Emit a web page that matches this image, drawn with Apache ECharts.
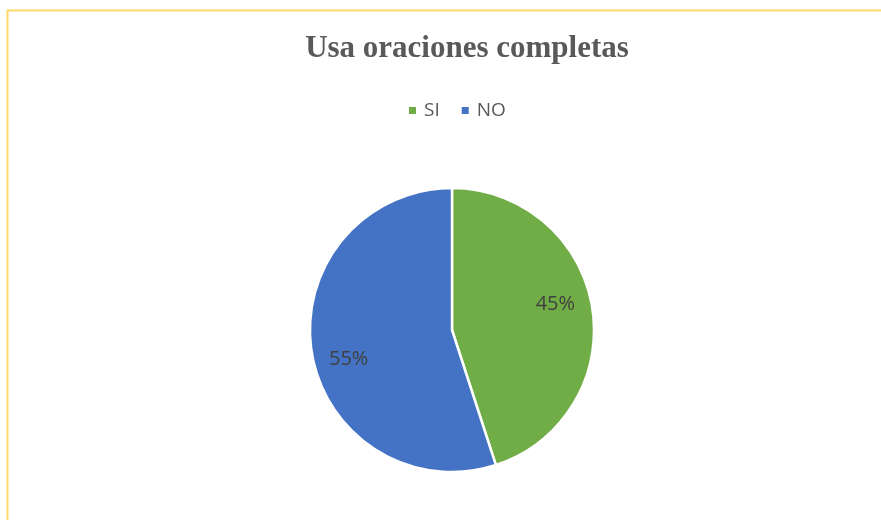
<!DOCTYPE html>
<html>
<head>
<meta charset="utf-8">
<script src="https://cdn.jsdelivr.net/npm/echarts@6/dist/echarts.min.js"></script>
<style>
html,body{margin:0;padding:0;background:#fff;}
#c{width:881px;height:520px;}
</style>
</head>
<body>
<div id="c"></div>
<script>
const titleText = 'Usa oraciones completas';
const categories = ['SI', 'NO'];
const values = [45, 55];
const colors = ['#70AD47', '#4472C4'];

const chart = echarts.init(document.getElementById('c'), null, {renderer: 'canvas'});
const data = categories.map((c, i) => ({name: c, value: values[i], itemStyle: {color: colors[i]}}));
chart.setOption({
  animation: false,
  backgroundColor: '#fff',
  graphic: [{
    type: 'rect', silent: true, z: 0,
    shape: {x: 7.5, y: 10.5, width: 900, height: 600},
    style: {fill: 'none', stroke: '#FFD966', lineWidth: 2}
  }],
  title: {
    text: titleText,
    left: 462, top: 28, textAlign: 'center',
    textStyle: {fontFamily: '"Liberation Serif", "Times New Roman", serif', fontWeight: 'bold', fontSize: 31, color: '#595959'}
  },
  legend: {
    data: categories,
    left: 409, top: 101,
    padding: 0,
    icon: 'rect', itemWidth: 7, itemHeight: 7, itemGap: 22,
    itemStyle: {borderWidth: 0},
    textStyle: {fontFamily: '"Open Sans", sans-serif', fontSize: 19, color: '#595959', padding: [0, 0, 0, 3]},
    selectedMode: false
  },
  series: [{
    type: 'pie',
    center: [452, 330],
    radius: [0, 142],
    startAngle: 90,
    clockwise: true,
    data: data,
    itemStyle: {borderColor: '#fff', borderWidth: 2.5},
    label: {show: false},
    labelLine: {show: false},
    silent: true
  }, {
    type: 'pie',
    center: [452, 332],
    radius: [0, 208],
    startAngle: 96,
    clockwise: true,
    data: data.map(d => ({name: d.name, value: d.value, itemStyle: {color: 'rgba(0,0,0,0)'}})),
    itemStyle: {borderWidth: 0},
    label: {show: true, position: 'inside', formatter: p => p.value + '%', fontFamily: '"Open Sans", sans-serif', fontSize: 20, color: '#404040'},
    labelLine: {show: false},
    silent: true,
    legendHoverLink: false
  }]
});
</script>
</body>
</html>
